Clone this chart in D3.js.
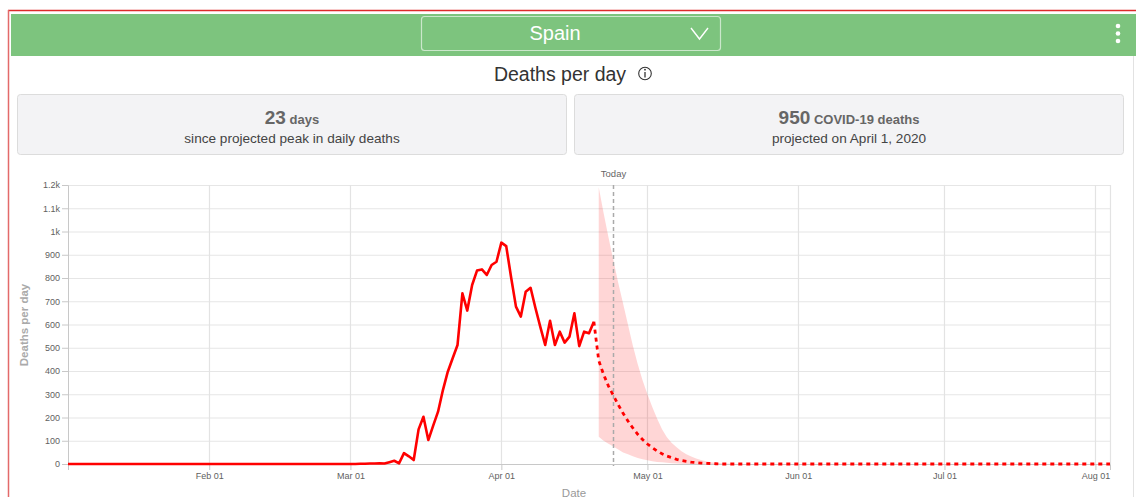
<!DOCTYPE html>
<html lang="en">
<head>
    <meta charset="utf-8">
</head>
<script src="https://d3js.org/d3.v7.min.js"></script>
<style type="text/css">
body {
  margin: 0;
  background: #fff;
  font-family: "Liberation Sans", Arial, sans-serif;
}
</style>
<body>
  <div id="deaths-viz"></div>
</body>
<script type="text/javascript">
// header / cards
let country = "Spain";
let chartTitle = "Deaths per day";
let peakDays = "23";
let peakDeaths = "950";
let peakDate = "projected on April 1, 2020";

// daily reported deaths, one value per day starting Jan 03 2020
let observedStart = "2020-01-03";
let observed = [
    0, 0, 0, 0, 0, 0, 0, 0, 0, 0,   // Jan 03 - Jan 12
    0, 0, 0, 0, 0, 0, 0, 0, 0, 0,   // Jan 13 - Jan 22
    0, 0, 0, 0, 0, 0, 0, 0, 0, 0,   // Jan 23 - Feb 01
    0, 0, 0, 0, 0, 0, 0, 0, 0, 0,   // Feb 02 - Feb 11
    0, 0, 0, 0, 0, 0, 0, 0, 0, 0,   // Feb 12 - Feb 21
    0, 0, 0, 0, 0, 0, 0, 0, 0, 0,   // Feb 22 - Mar 02
    1, 1, 2, 2, 3, 2, 8, 14, 3, 47, // Mar 03 - Mar 12
    33, 17, 149, 203, 103, 165, 225, 318, 397, 455, // Mar 13 - Mar 22
    512, 734, 660, 770, 832, 837, 813, 856, 870,    // Mar 23 - Mar 31
    952, 937, 803, 677, 634, 741, 758, 671, 590, 512, // Apr 01 - Apr 10
    616, 512, 569, 522, 548, 648, 507, 569, 562, 612  // Apr 11 - Apr 20
];

// projected mean, starting Apr 20 2020
let projectionStart = "2020-04-20";
let projected = [
    612, 445, 385, 335, 295, 255, 218, 185, 155, 128, // Apr 20 - Apr 29
    105, 86, 70, 56, 44, 34, 27, 20, 15, 11,          // Apr 30 - May 09
    8, 6, 4, 3, 2, 1, 0, 0, 0, 0,                     // May 10 - May 19
    0, 0, 0, 0, 0, 0, 0, 0, 0, 0,
    0, 0, 0, 0, 0, 0, 0, 0, 0, 0,
    0, 0, 0, 0, 0, 0, 0, 0, 0, 0,
    0, 0, 0, 0, 0, 0, 0, 0, 0, 0,
    0, 0, 0, 0, 0, 0, 0, 0, 0, 0,
    0, 0, 0, 0, 0, 0, 0, 0, 0, 0,
    0, 0, 0, 0, 0, 0, 0, 0, 0, 0,
    0, 0, 0, 0, 0, 0, 0                               // ... Aug 04
];

// uncertainty band, starting Apr 21 2020
let bandStart = "2020-04-21";
let bandUpper = [1190, 1080, 975, 877, 780, 690, 600, 510, 430, 360,
                 300, 245, 195, 150, 115, 90, 72, 55, 42, 32,
                 24, 17, 12, 8, 5, 3, 2, 1, 0];
let bandLower = [117, 100, 87, 75, 62, 50, 42, 33, 26, 20,
                 16, 12, 9, 7, 5, 3, 2, 1, 0, 0,
                 0, 0, 0, 0, 0, 0, 0, 0, 0];

let today = "2020-04-24";
let dateDomain = ["2020-01-03", "2020-08-04"];
let monthTicks = ["2020-02-01", "2020-03-01", "2020-04-01", "2020-05-01", "2020-06-01", "2020-07-01", "2020-08-01"];
let yTicks = [0, 100, 200, 300, 400, 500, 600, 700, 800, 900, 1000, 1100, 1200];

let parse = d3.timeParse("%Y-%m-%d");

let width = 1136;
let height = 497;

let svg = d3.select("#deaths-viz")
            .append("svg")
            .attr("width", width)
            .attr("height", height)
            .style("display", "block");

//frame + header
svg.append("line").attr("x1", 8).attr("x2", width).attr("y1", 10.5).attr("y2", 10.5)
    .attr("stroke", "#dd2a2a").attr("stroke-width", 1.5);
svg.append("line").attr("x1", 8.5).attr("x2", 8.5).attr("y1", 10).attr("y2", height)
    .attr("stroke", "#e36a6a").attr("stroke-width", 1.5);
svg.append("line").attr("x1", 1133.5).attr("x2", 1133.5).attr("y1", 56).attr("y2", height)
    .attr("stroke", "#e2e2e2");

svg.append("rect").attr("x", 11).attr("y", 14).attr("width", width - 11).attr("height", 42)
    .attr("fill", "#7dc47e");
svg.append("rect").attr("x", 421.5).attr("y", 16.5).attr("width", 299).attr("height", 34).attr("rx", 3)
    .attr("fill", "none").attr("stroke", "rgba(255,255,255,0.6)").attr("stroke-width", 1.2);
svg.append("text").attr("x", 555).attr("y", 40).attr("text-anchor", "middle")
    .style("font-size", "20px").attr("fill", "#fff").text(country);
svg.append("path").attr("d", "M691,28 L699.5,39 L708,28")
    .attr("fill", "none").attr("stroke", "#fff").attr("stroke-width", 1.4);
[26, 33.5, 41].forEach(function(cy) {
    svg.append("circle").attr("cx", 1118).attr("cy", cy).attr("r", 2.3).attr("fill", "#fff");
});

//title
svg.append("text").attr("x", 560).attr("y", 80.5).attr("text-anchor", "middle")
    .style("font-size", "19.5px").attr("fill", "#333").text(chartTitle);
svg.append("circle").attr("cx", 645).attr("cy", 73.5).attr("r", 6.3)
    .attr("fill", "none").attr("stroke", "#333").attr("stroke-width", 1.1);
svg.append("line").attr("x1", 645).attr("x2", 645).attr("y1", 72).attr("y2", 77.5)
    .attr("stroke", "#333").attr("stroke-width", 1.3);
svg.append("circle").attr("cx", 645).attr("cy", 69.7).attr("r", 0.9).attr("fill", "#333");

//cards
let cards = [
    {x: 17, big: peakDays, unit: " days", sub: "since projected peak in daily deaths"},
    {x: 574, big: peakDeaths, unit: " COVID-19 deaths", sub: peakDate}
];
cards.forEach(function(c) {
    svg.append("rect").attr("x", c.x + 0.5).attr("y", 94.5).attr("width", 549).attr("height", 60).attr("rx", 3)
        .attr("fill", "#f3f3f5").attr("stroke", "#dcdcdc");
    let t = svg.append("text").attr("x", c.x + 275).attr("y", 123.5).attr("text-anchor", "middle")
        .attr("fill", "#666").style("font-weight", "bold");
    t.append("tspan").style("font-size", "19px").text(c.big);
    t.append("tspan").style("font-size", "13px").text(c.unit);
    svg.append("text").attr("x", c.x + 275).attr("y", 142.5).attr("text-anchor", "middle")
        .style("font-size", "13.6px").attr("fill", "#444").text(c.sub);
});

//scales
let x = d3.scaleTime().domain(dateDomain.map(parse)).range([68, 1110]);
let y = d3.scaleLinear().domain([0, 1200]).range([464, 185]);

let chart = svg.append("g");

//grid
chart.selectAll("line.hgrid").data(yTicks).enter().append("line")
    .attr("class", "hgrid")
    .attr("x1", 68).attr("x2", 1110)
    .attr("y1", function(d) { return y(d) + 0.5; })
    .attr("y2", function(d) { return y(d) + 0.5; })
    .attr("stroke", "#e6e6e6").attr("stroke-width", 1.2);
chart.selectAll("line.vgrid").data(monthTicks.map(parse).concat([parse(dateDomain[1])])).enter().append("line")
    .attr("class", "vgrid")
    .attr("x1", function(d) { return Math.round(x(d)) + 0.5; })
    .attr("x2", function(d) { return Math.round(x(d)) + 0.5; })
    .attr("y1", 185).attr("y2", 464)
    .attr("stroke", "#e3e3e3").attr("stroke-width", 1.2);

//band
let bandData = bandUpper.map(function(u, i) {
    return {date: d3.timeDay.offset(parse(bandStart), i), hi: u, lo: bandLower[i]};
});
chart.append("path")
    .datum(bandData)
    .attr("d", d3.area()
        .x(function(d) { return x(d.date); })
        .y0(function(d) { return y(d.lo); })
        .y1(function(d) { return y(d.hi); }))
    .attr("fill", "#f00")
    .attr("fill-opacity", 0.16);

//axes
let yAxis = chart.append("g")
    .attr("transform", "translate(68,0)")
    .call(d3.axisLeft(y).tickValues(yTicks).tickSize(6).tickPadding(2)
        .tickFormat(function(d) { return d >= 1000 ? (d / 1000) + "k" : d; }));
let xAxis = chart.append("g")
    .attr("transform", "translate(0,464)")
    .call(d3.axisBottom(x).tickValues(monthTicks.map(parse)).tickSize(6).tickPadding(3)
        .tickFormat(d3.timeFormat("%b %d")));
[yAxis, xAxis].forEach(function(a) {
    a.select(".domain").attr("stroke", "#c8c8c8");
    a.selectAll(".tick line").attr("stroke", "#c8c8c8");
    a.selectAll(".tick text").attr("fill", "#5f5f5f")
        .style("font-size", "9px").style("font-family", "Liberation Sans, Arial, sans-serif");
});

//lines
let observedData = observed.map(function(v, i) {
    return {date: d3.timeDay.offset(parse(observedStart), i), value: v};
});
let projectedData = projected.map(function(v, i) {
    return {date: d3.timeDay.offset(parse(projectionStart), i), value: v};
});
let line = d3.line()
    .x(function(d) { return x(d.date); })
    .y(function(d) { return y(d.value); });

chart.append("path").datum(projectedData).attr("d", line)
    .attr("fill", "none").attr("stroke", "#f00").attr("stroke-width", 2.8)
    .attr("stroke-dasharray", "4,4");
chart.append("path").datum(observedData).attr("d", line)
    .attr("fill", "none").attr("stroke", "#f00").attr("stroke-width", 2.6)
    .attr("stroke-linejoin", "round");

//today
let tx = Math.round(x(parse(today))) + 0.5;
chart.append("line").attr("x1", tx).attr("x2", tx).attr("y1", 185).attr("y2", 466)
    .attr("stroke", "#aaa").attr("stroke-width", 1.5).attr("stroke-dasharray", "4,3");
chart.append("text").attr("x", tx).attr("y", 176.5).attr("text-anchor", "middle")
    .style("font-size", "9.5px").attr("fill", "#666").text("Today");

//axis titles
chart.append("text")
    .attr("transform", "translate(28,325) rotate(-90)")
    .attr("text-anchor", "middle")
    .style("font-size", "11.5px").style("font-weight", "bold").attr("fill", "#aaa").text("Deaths per day");
chart.append("text").attr("x", 574).attr("y", 496.5).attr("text-anchor", "middle")
    .style("font-size", "11.5px").attr("fill", "#999").text("Date");
</script>
</html>
